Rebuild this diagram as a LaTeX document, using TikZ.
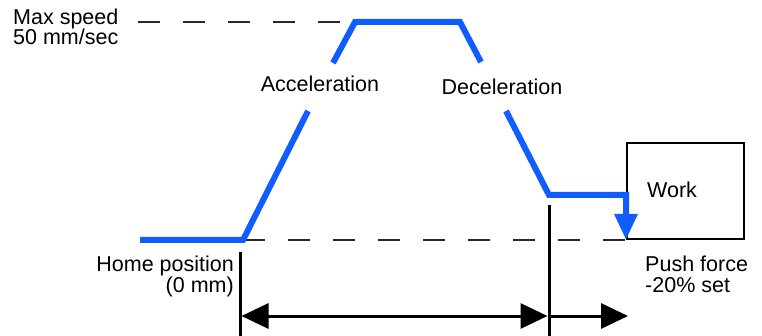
\documentclass[tikz,border=0pt]{standalone}
\usepackage{fontspec}
\setmainfont{Liberation Sans}
\usetikzlibrary{arrows.meta}
\definecolor{speedblue}{RGB}{16,92,255}
\definecolor{dashgray}{RGB}{40,40,40}
\begin{document}
\begin{tikzpicture}[x=1pt,y=-1pt,
  lbl/.style={inner sep=0pt, font=\fontsize{21.5}{21.5}\selectfont},
  profile/.style={speedblue, line width=6pt, line join=miter},
  guide/.style={dashgray, line width=2pt, dash pattern=on 22pt off 23pt},
  mark line/.style={black, line width=3pt},
  dim/.style={black, line width=3pt},
  dimtip/.tip={Triangle[length=27pt,width=25pt]},
  workbox/.style={draw=black, line width=1.5pt, fill=white}]
\useasboundingbox (0,0) rectangle (762,336);
% coordinates of the speed profile
\coordinate (p0) at (140,240);
\coordinate (p1) at (243,240);
\coordinate (p2) at (355,22);
\coordinate (p3) at (460,22);
\coordinate (p4) at (549,195);
\coordinate (p5) at (626,195);
\coordinate (p6) at (626,240);
% work box
\node[workbox, minimum width=117pt, minimum height=96pt, anchor=south west] (work) at (626,240) {};
\node[lbl, anchor=base west] (worklbl) at (647,198) {Work};
% dashed guides
\coordinate (g0) at (138,22);
\draw[guide] (g0) -- (p2);
\draw[guide] (p1) -- (p6);
% profile with label gaps
\coordinate (a1) at (333,63);
\coordinate (a2) at (308,111);
\coordinate (d1) at (481,62);
\coordinate (d2) at (506,111);
\draw[profile] (p0) -- (p1) -- (a2);
\draw[profile] (a1) -- (p2) -- (p3) -- (d1);
\draw[profile, -{Triangle[length=26pt,width=22pt]}] (d2) -- (p4) -- (p5) -- (p6);
% labels
\node[lbl, anchor=base west] (maxs) at (13,25) {Max speed};
\node[lbl, anchor=base west] (maxv) at (13,45) {50 mm/sec};
\node[lbl, anchor=base] (acc) at (320,92) {Acceleration};
\node[lbl, anchor=base] (dec) at (502,95) {Deceleration};
\node[lbl, anchor=base east] (home) at (234,272) {Home position};
\node[lbl, anchor=base east] (zero) at (234,293) {(0 mm)};
\node[lbl, anchor=base west] (push) at (645,272) {Push force};
\node[lbl, anchor=base west] (pct) at (645,292) {-20\% set};
% marker lines
\coordinate (m1t) at (240,252);
\coordinate (m1b) at (240,336);
\coordinate (m2t) at (549,205);
\coordinate (m2b) at (549,336);
\draw[mark line] (m1t) -- (m1b);
\draw[mark line] (m2t) -- (m2b);
% dimension arrows
\coordinate (r1) at (241.5,316);
\coordinate (r2) at (547.5,316);
\coordinate (r3) at (550.5,316);
\coordinate (r4) at (628,316);
\draw[dim, {dimtip}-{dimtip}] (r1) -- (r2);
\draw[dim, -{dimtip}] (r3) -- (r4);
\end{tikzpicture}
\end{document}
